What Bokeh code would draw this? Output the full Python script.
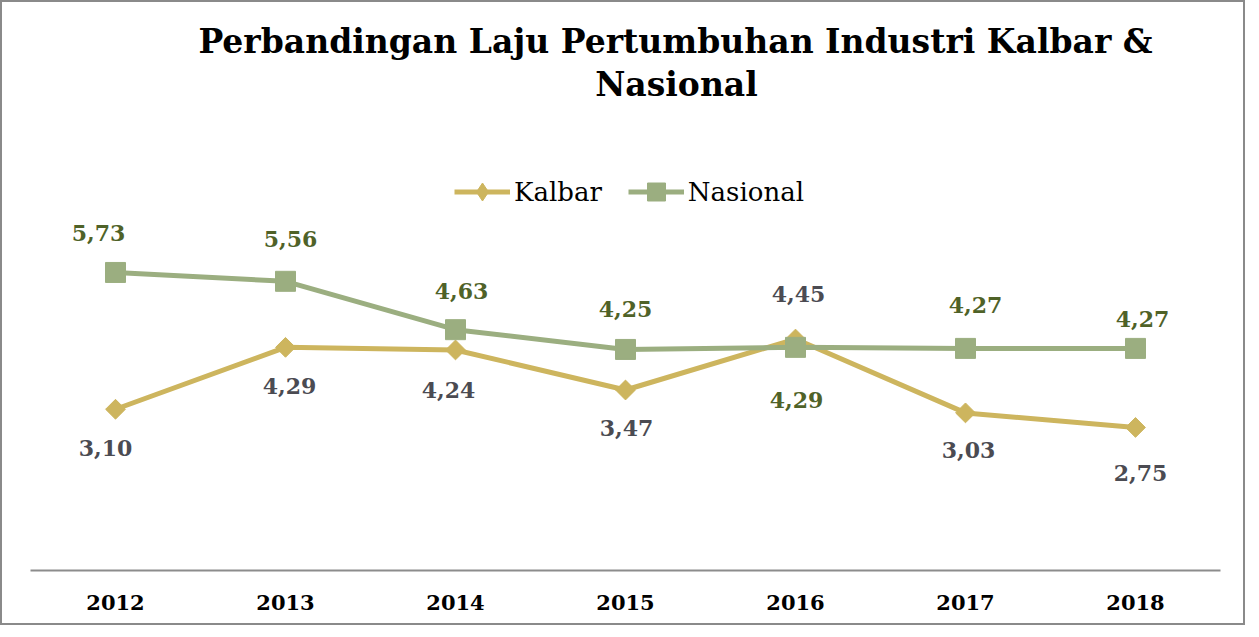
import math
from bokeh.plotting import figure
from bokeh.models import ColumnDataSource, LabelSet, Label, Legend, LegendItem, Range1d
from bokeh.core.properties import value
from bokeh.embed import file_html
from bokeh.resources import INLINE

# ---- data ----
years = ["2012", "2013", "2014", "2015", "2016", "2017", "2018"]
kalbar = [3.10, 4.29, 4.24, 3.47, 4.45, 3.03, 2.75]
nasional = [5.73, 5.56, 4.63, 4.25, 4.29, 4.27, 4.27]
series_names = ["Kalbar", "Nasional"]
title_lines = ["Perbandingan Laju Pertumbuhan Industri Kalbar &", "Nasional"]

# ---- label placement (style, pixels) ----
kalbar_dx = [-10, 4, -7, 1, 3, 3, 5]
kalbar_dy = [-39, -39, -40, -38, 45, -37, -46]
nasional_dx = [-17, 5, 6, 0, 1, 10, 7]
nasional_dy = [39, 42, 39, 40, -53, 43, 29]

GOLD = "#CDB55E"
GREEN = "#9BAE80"
LBL_GREEN = "#4F6228"
LBL_GREY = "#4B4B52"
SERIF = "DejaVu Serif"


def fmt(v):
    return f"{v:.2f}".replace(".", ",")


p = figure(
    x_range=years,
    y_range=Range1d(0, 10.92),
    width=1245,
    height=625,
    output_backend="svg",
    toolbar_location=None,
    y_axis_location=None,
    min_border_left=28,
    min_border_right=27,
    min_border_top=0,
    min_border_bottom=57,
)
p.styles = {"border": "2px solid #8a8a8a"}
p.outline_line_color = None
p.xgrid.visible = False
p.ygrid.visible = False
p.background_fill_color = "white"
p.border_fill_color = "white"

ax = p.xaxis[0]
ax.axis_line_color = "#8c8c8c"
ax.axis_line_width = 2
ax.major_tick_line_color = None
ax.minor_tick_line_color = None
ax.major_label_text_font = SERIF
ax.major_label_text_font_style = "bold"
ax.major_label_text_font_size = "21px"
ax.major_label_text_color = "black"
ax.major_label_standoff = 18

src_k = ColumnDataSource(dict(x=years, y=kalbar, text=[fmt(v) for v in kalbar],
                              dx=kalbar_dx, dy=kalbar_dy))
src_n = ColumnDataSource(dict(x=years, y=nasional, text=[fmt(v) for v in nasional],
                              dx=nasional_dx, dy=nasional_dy))

rk = p.line("x", "y", source=src_k, line_color=GOLD, line_width=5)
sk = p.scatter("x", "y", source=src_k, marker="square", angle=math.pi / 4, size=14,
               fill_color=GOLD, line_color=GOLD)
# legend-only symbol (the legend does not rotate markers)
sk_leg = p.scatter("x", "y", source=src_k, marker="diamond", size=20,
                   fill_color=GOLD, line_color=GOLD, visible=False)
rn = p.line("x", "y", source=src_n, line_color=GREEN, line_width=5)
sn = p.scatter("x", "y", source=src_n, marker="square", size=20,
               fill_color=GREEN, line_color=GREEN)

for src, col in ((src_k, LBL_GREY), (src_n, LBL_GREEN)):
    p.add_layout(LabelSet(x="x", y="y", text="text", source=src,
                          x_offset="dx", y_offset="dy",
                          text_align="center", text_baseline="middle",
                          text_font=value(SERIF), text_font_style="bold",
                          text_font_size="22px", text_color=col))

legend = Legend(
    items=[LegendItem(label=series_names[0], renderers=[rk, sk_leg]),
           LegendItem(label=series_names[1], renderers=[rn, sn])],
    orientation="horizontal",
    location=(424, 356),
    glyph_width=56,
    glyph_height=45,
    label_standoff=4,
    spacing=26,
    padding=0,
    margin=0,
    border_line_color=None,
    background_fill_alpha=0,
    inactive_fill_alpha=0,
    label_text_font=SERIF,
    label_text_font_size="26px",
    label_text_color="black",
)
p.add_layout(legend, "center")

p.add_layout(Label(x=645, y=529, x_units="screen", y_units="screen", text=title_lines[0],
                   text_align="center", text_baseline="alphabetic", text_font=SERIF,
                   text_font_style="bold", text_font_size="33px", text_color="black"))
p.add_layout(Label(x=646, y=486, x_units="screen", y_units="screen", text=title_lines[1],
                   text_align="center", text_baseline="alphabetic", text_font=SERIF,
                   text_font_style="bold", text_font_size="33px", text_color="black"))

open("out.html", "w").write(file_html(p, INLINE))
